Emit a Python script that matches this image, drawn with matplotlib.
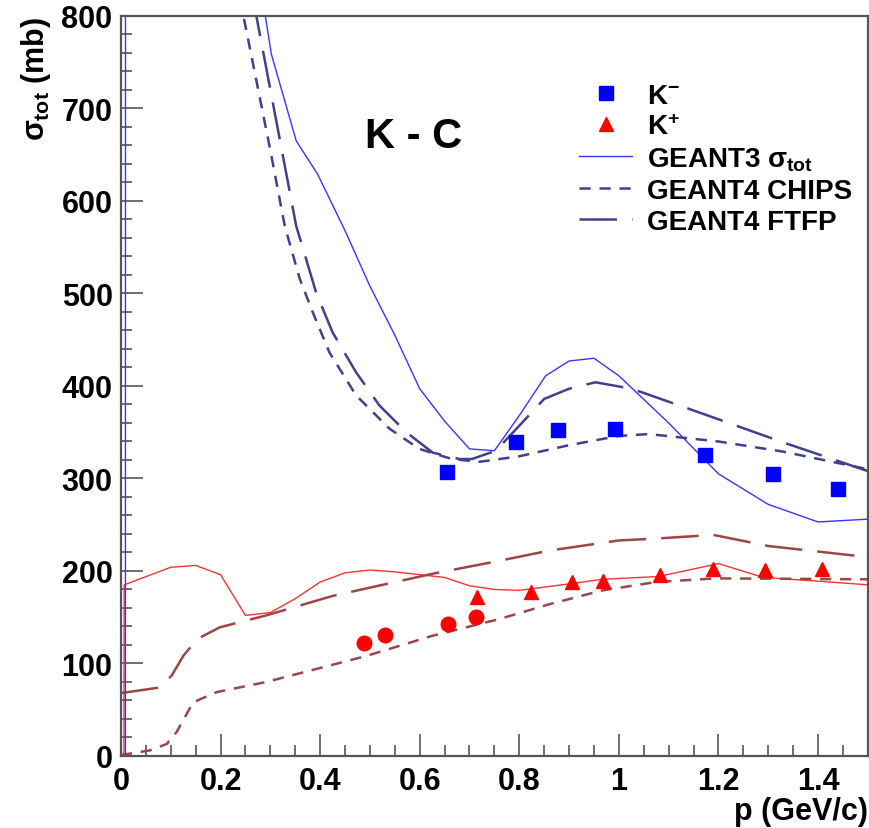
#total cross sections of K- and K+ on carbon
#data points compared with GEANT3 and GEANT4 (CHIPS, FTFP)

import numpy as np
import matplotlib.pyplot as plt

# K- data (squares)
p_kminus = [0.655, 0.794, 0.878, 0.993, 1.172, 1.31, 1.44]
sig_kminus = [306.7, 339, 352, 353.5, 325.4, 305, 288.6]

# K+ data (triangles)
p_kplus = [0.715, 0.823, 0.905, 0.968, 1.083, 1.189, 1.294, 1.407]
sig_kplus = [171.5, 177.6, 187.7, 188.8, 195.7, 202, 201.4, 202]

# K+ data (circles, low momentum)
p_kplus_low = [0.489, 0.531, 0.656, 0.713]
sig_kplus_low = [121.8, 130.8, 142.7, 150.6]

# GEANT3 K-
p_g3_km = [0.009, 0.0095, 0.1, 0.2, 0.29, 0.302, 0.352, 0.395, 0.45, 0.5, 0.55,
           0.6, 0.65, 0.7, 0.75, 0.8, 0.853, 0.9, 0.95, 1.0, 1.1, 1.2, 1.3, 1.4, 1.5]
sig_g3_km = [0, 3000, 2500, 1400, 800, 759, 665, 629, 568, 508, 455,
             397, 362, 332, 330, 368, 411, 427, 430, 411, 360, 305, 272, 253, 256]

# GEANT4 CHIPS K-
p_chips_km = [0.2, 0.246, 0.3, 0.329, 0.359, 0.385, 0.419, 0.472, 0.539, 0.599,
              0.665, 0.72, 0.8, 0.9, 1.0, 1.06, 1.2, 1.33, 1.5]
sig_chips_km = [1050, 800, 655, 573, 516, 480, 436, 390, 354, 332,
                321, 318, 324, 336, 346, 348, 340, 329, 310]

# GEANT4 FTFP K-
p_ftfp_km = [0.2, 0.272, 0.352, 0.392, 0.425, 0.472, 0.519, 0.573, 0.626, 0.68,
             0.705, 0.753, 0.8, 0.85, 0.9, 0.953, 1.026, 1.1, 1.2, 1.33, 1.5]
sig_ftfp_km = [1300, 800, 573, 501, 458, 415, 379, 350, 328, 321,
               321, 330, 357, 386, 397, 404, 397, 383, 364, 339, 308]

# GEANT3 K+
p_g3_kp = [0.006, 0.0065, 0.1, 0.15, 0.2, 0.25, 0.3, 0.35, 0.4, 0.45, 0.5, 0.55,
           0.6, 0.65, 0.7, 0.75, 0.8, 0.9, 0.967, 1.08, 1.2, 1.29, 1.4, 1.5]
sig_g3_kp = [0, 185, 204, 206, 196, 152, 155, 170, 188, 198, 201, 199,
             196, 193, 184, 180, 179, 186, 191, 194, 208, 193, 189, 185]

# GEANT4 CHIPS K+
p_chips_kp = [0.0, 0.058, 0.092, 0.112, 0.145, 0.192, 0.292, 0.492, 0.626, 0.76,
              0.86, 0.967, 1.074, 1.194, 1.5]
sig_chips_kp = [1, 6, 13, 26, 58, 69, 80, 108, 130, 148,
                164, 179, 188, 192, 191]

# GEANT4 FTFP K+
p_ftfp_kp = [0.0, 0.078, 0.102, 0.125, 0.152, 0.198, 0.292, 0.425, 0.626, 0.76,
             0.86, 1.0, 1.074, 1.19, 1.3, 1.5]
sig_ftfp_kp = [68, 74, 87, 108, 126, 139, 152, 173, 197, 211,
               222, 233, 235, 239, 227, 215]

plt.rcParams['font.family'] = ['Liberation Sans', 'DejaVu Sans']
plt.rcParams['font.weight'] = 'bold'
plt.rcParams['mathtext.fontset'] = 'custom'
plt.rcParams['mathtext.rm'] = 'Liberation Sans'
plt.rcParams['mathtext.it'] = 'Liberation Sans'
plt.rcParams['mathtext.bf'] = 'Liberation Sans:bold'

blue = '#3535ff'
darkblue = '#40408f'
red = '#ff3030'
brown = '#9c4646'
short = (0, (4.5, 3.5))
long_ = (0, (15, 6))

fig = plt.figure(figsize=(8.7, 8.29), dpi=100)
ax = fig.add_axes([0.139, 0.0869, 0.8585, 0.8926])

# K+ curves
ax.plot(p_g3_kp, sig_g3_kp, color=red, lw=1.0)
ax.plot(p_chips_kp, sig_chips_kp, color=brown, lw=1.8, linestyle=short)
ax.plot(p_ftfp_kp, sig_ftfp_kp, color=brown, lw=1.8, linestyle=long_)

# K- curves
l_g3, = ax.plot(p_g3_km, sig_g3_km, color=blue, lw=1.0)
l_chips, = ax.plot(p_chips_km, sig_chips_km, color=darkblue, lw=1.8, linestyle=short)
l_ftfp, = ax.plot(p_ftfp_km, sig_ftfp_km, color=darkblue, lw=1.8, linestyle=long_)

# data
m_km, = ax.plot(p_kminus, sig_kminus, 's', color='#0000ff', ms=10.5, linestyle='none')
m_kp, = ax.plot(p_kplus, sig_kplus, '^', color='#ff0000', ms=10.5, linestyle='none')
ax.plot(p_kplus_low, sig_kplus_low, 'o', color='#ff0000', ms=10.5, linestyle='none')

ax.set_xlim(0, 1.5)
ax.set_ylim(0, 800)
ax.set_xticks(np.arange(0, 1.41, 0.2))
ax.set_xticklabels(['0', '0.2', '0.4', '0.6', '0.8', '1', '1.2', '1.4'])
ax.set_xticks(np.arange(0, 1.51, 0.05), minor=True)
ax.set_yticks(np.arange(0, 801, 100))
ax.set_yticks(np.arange(0, 801, 20), minor=True)
ax.tick_params(which='both', direction='in', top=False, right=False,
               color='#555555', width=1.2, labelsize=22)
ax.tick_params(which='major', length=16)
ax.tick_params(which='minor', length=8)
ax.tick_params(axis='y', pad=6)
ax.tick_params(axis='x', pad=7)
for s in ax.spines.values():
    s.set_color('#555555')
    s.set_linewidth(1.6)

ax.set_xlabel('p (GeV/c)', fontsize=22, fontweight='bold', loc='right', labelpad=0)
ax.set_ylabel(r'$\sigma_{\mathbf{tot}}$ (mb)', fontsize=22, fontweight='bold',
              loc='top', labelpad=6)

ax.text(0.327, 0.823, 'K - C', transform=ax.transAxes, fontsize=30,
        fontweight='bold', va='baseline')

ax.legend([m_km, m_kp, l_g3, l_chips, l_ftfp],
          [r'K$^{\mathbf{-}}$', r'K$^{\mathbf{+}}$', r'GEANT3 $\sigma_{\mathbf{tot}}$',
           'GEANT4 CHIPS', 'GEANT4 FTFP'],
          loc='upper left', bbox_to_anchor=(0.595, 0.928), frameon=False,
          handlelength=1.9, labelspacing=0.18, handletextpad=0.55,
          borderpad=0, prop={'weight': 'bold', 'size': 20})

plt.savefig('out.png', dpi=100)
